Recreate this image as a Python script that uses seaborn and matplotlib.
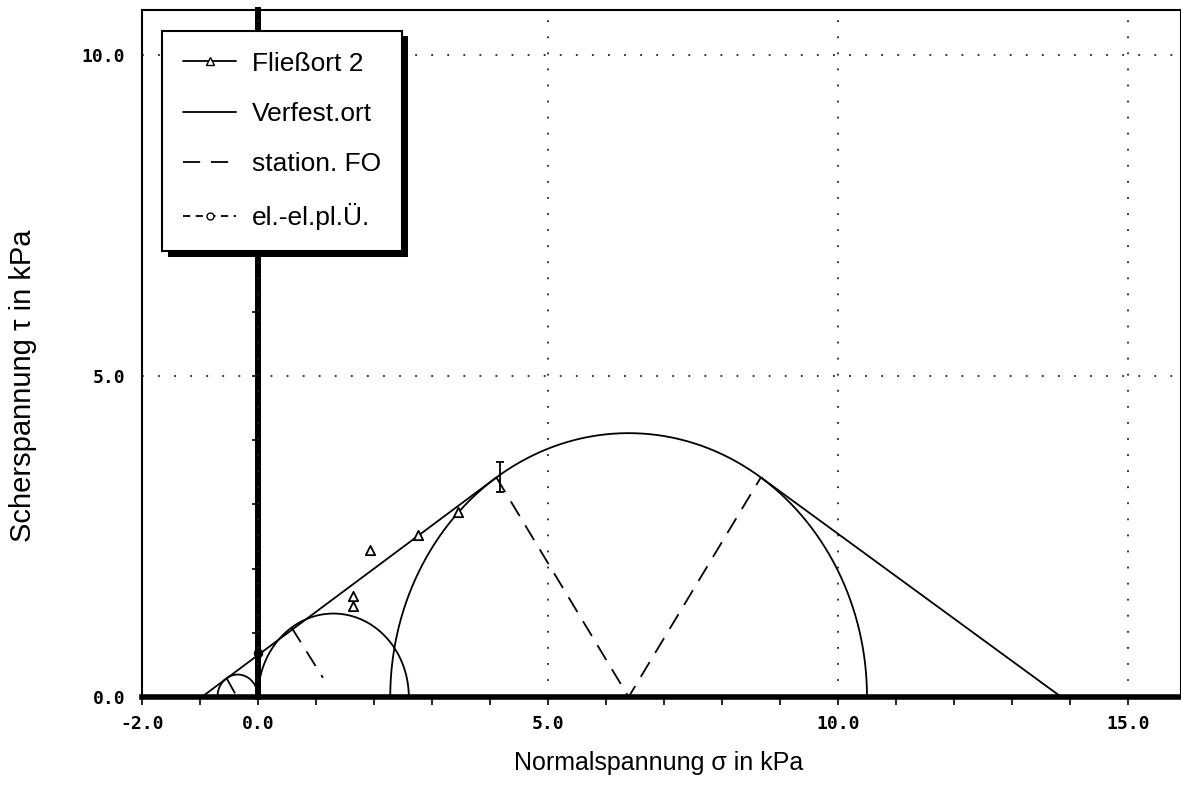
import numpy as np
import pandas as pd
import seaborn as sns
import matplotlib.pyplot as plt
import matplotlib.patheffects as pe
from matplotlib.lines import Line2D

# Mohr circles: center and radius (kPa)
circle_center = [6.39, 1.30, -0.35]
circle_radius = [4.11, 1.30, 0.35]

# tangent lines of the yield locus
rise_x = [-0.97, 4.11]
rise_y = [0.0, 3.42]
fall_x = [8.67, 13.85]
fall_y = [3.42, 0.0]

# stationary flow lines (dashed)
stat_big_x = [4.11, 6.39, 8.67]
stat_big_y = [3.42, 0.0, 3.42]
stat_mid_x = [0.58, 1.12]
stat_mid_y = [1.08, 0.30]
stat_small_x = [-0.54, -0.38]
stat_small_y = [0.29, 0.03]

# Fliessort 2 measured points
fl_sigma = [1.64, 1.64, 1.93, 2.76, 3.45]
fl_tau = [1.42, 1.58, 2.29, 2.52, 2.88]

# scatter bar at the tangent point
err_sigma = [4.17]
err_tau = [3.43]
err_dev = [0.23]

# el.-el.pl. transition
elpl_sigma = [0.0]
elpl_tau = [0.68]

xtick_pos = [-2, 0, 5, 10, 15]
xtick_lab = ['-2.0', '0.0', '5.0', '10.0', '15.0']
xminor_pos = [-1, 1, 2, 3, 4, 6, 7, 8, 9, 11, 12, 13, 14]
ytick_pos = [0, 5, 10]
ytick_lab = ['0.0', '5.0', '10.0']
yaxis_ticks = [1, 2, 3, 4, 5, 6, 7, 8, 9, 10]
legend_labels = ['Fließort 2', 'Verfest.ort', 'station. FO', 'el.-el.pl.Ü.']

sns.set_style('white')
label_font = ['Liberation Sans', 'DejaVu Sans']
tick_font = ['DejaVu Sans Mono', 'DejaVu Sans']
plt.rcParams['font.family'] = label_font
plt.rcParams['text.color'] = 'k'
plt.rcParams['axes.labelcolor'] = 'k'
plt.rcParams['xtick.color'] = 'k'
plt.rcParams['ytick.color'] = 'k'

long_dash = (0, (9.5, 6))
short_dash = (0, (4, 3))

fig = plt.figure(figsize=(11.81, 7.85), dpi=100)
ax = fig.add_axes([142 / 1181, 88 / 785, 1039 / 1181, 687 / 785])

# circles
for c, r in zip(circle_center, circle_radius):
    t = np.linspace(0, np.pi, 300)
    df = pd.DataFrame({'x': c + r * np.cos(t), 'y': r * np.sin(t)})
    sns.lineplot(data=df, x='x', y='y', sort=False, estimator=None,
                 color='k', lw=1.3, ax=ax)

# yield locus tangents
sns.lineplot(x=rise_x, y=rise_y, sort=False, estimator=None, color='k', lw=1.3, ax=ax)
sns.lineplot(x=fall_x, y=fall_y, sort=False, estimator=None, color='k', lw=1.3, ax=ax)

# stationary flow lines
for xs, ys in [(stat_big_x, stat_big_y), (stat_mid_x, stat_mid_y), (stat_small_x, stat_small_y)]:
    sns.lineplot(x=xs, y=ys, sort=False, estimator=None, color='k', lw=1.3,
                 linestyle=long_dash, ax=ax)

# measured points
sns.scatterplot(x=fl_sigma, y=fl_tau, marker='^', s=45, color='white',
                edgecolor='k', linewidth=1.3, zorder=4, ax=ax)
ax.errorbar(err_sigma, err_tau, yerr=err_dev, fmt='none', ecolor='k',
            elinewidth=1.3, capsize=3, capthick=1.3, zorder=4)
sns.scatterplot(x=elpl_sigma, y=elpl_tau, marker='o', s=40, color='k',
                edgecolor='k', zorder=4, ax=ax)

ax.set_xlim(-2, -2 + 1039 / 58)
ax.set_ylim(0, 687 / 64.2)

# frame
for side in ['left', 'top', 'right']:
    ax.spines[side].set_visible(True)
    ax.spines[side].set_color('k')
    ax.spines[side].set_linewidth(1.5)
ax.spines['bottom'].set_visible(True)
ax.spines['bottom'].set_color('k')
ax.spines['bottom'].set_linewidth(4)

ax.set_xticks(xtick_pos)
ax.set_xticklabels(xtick_lab, family=tick_font, fontsize=13, weight='bold')
ax.set_xticks(xminor_pos, minor=True)
ax.set_yticks(ytick_pos)
ax.set_yticklabels(ytick_lab, family=tick_font, fontsize=13, weight='bold')
ax.tick_params(axis='x', which='both', bottom=True, direction='out',
               length=6, width=1.2, color='k', pad=7)
ax.tick_params(axis='y', which='both', left=False, length=0, pad=12)

ax.grid(True, which='major', color='#222222', linestyle=(0, (1, 7.9)), linewidth=1.3)

# thick sigma = 0 axis with its own ticks
sec = ax.secondary_yaxis(0, transform=ax.transData)
sec.set_alignment('left')
sec.spines['left'].set_linewidth(4.3)
sec.spines['left'].set_color('k')
sec.set_ticks(yaxis_ticks)
sec.tick_params(axis='y', length=4, width=1.2, color='k', direction='out',
                labelleft=False, labelright=False)

ax.set_xlabel('Normalspannung σ in kPa', fontsize=18)
ax.set_ylabel('Scherspannung τ in kPa', fontsize=21)
ax.xaxis.set_label_coords(0.497, -0.078)
ax.yaxis.set_label_coords(-0.101, 0.453)

handles = [
    Line2D([0], [0], color='k', lw=1.3, marker='^', ms=6, mfc='white', mec='k'),
    Line2D([0], [0], color='k', lw=1.3),
    Line2D([0], [0], color='k', lw=1.3, linestyle=long_dash),
    Line2D([0], [0], color='k', lw=1.3, linestyle=short_dash, marker='o', ms=5,
           mfc='white', mec='k'),
]
leg = ax.legend(handles, legend_labels, loc='upper left',
                bbox_to_anchor=(0.0195, 0.97), borderaxespad=0,
                fontsize=19, handlelength=2.0, handletextpad=0.6,
                labelspacing=1.0, borderpad=0.8,
                fancybox=False, framealpha=1, edgecolor='k')
frame = leg.get_frame()
frame.set_linewidth(1.5)
frame.set_path_effects([pe.SimplePatchShadow(offset=(4, -4), shadow_rgbFace='k', alpha=1),
                        pe.Normal()])

fig.savefig('out.png', dpi=100)
